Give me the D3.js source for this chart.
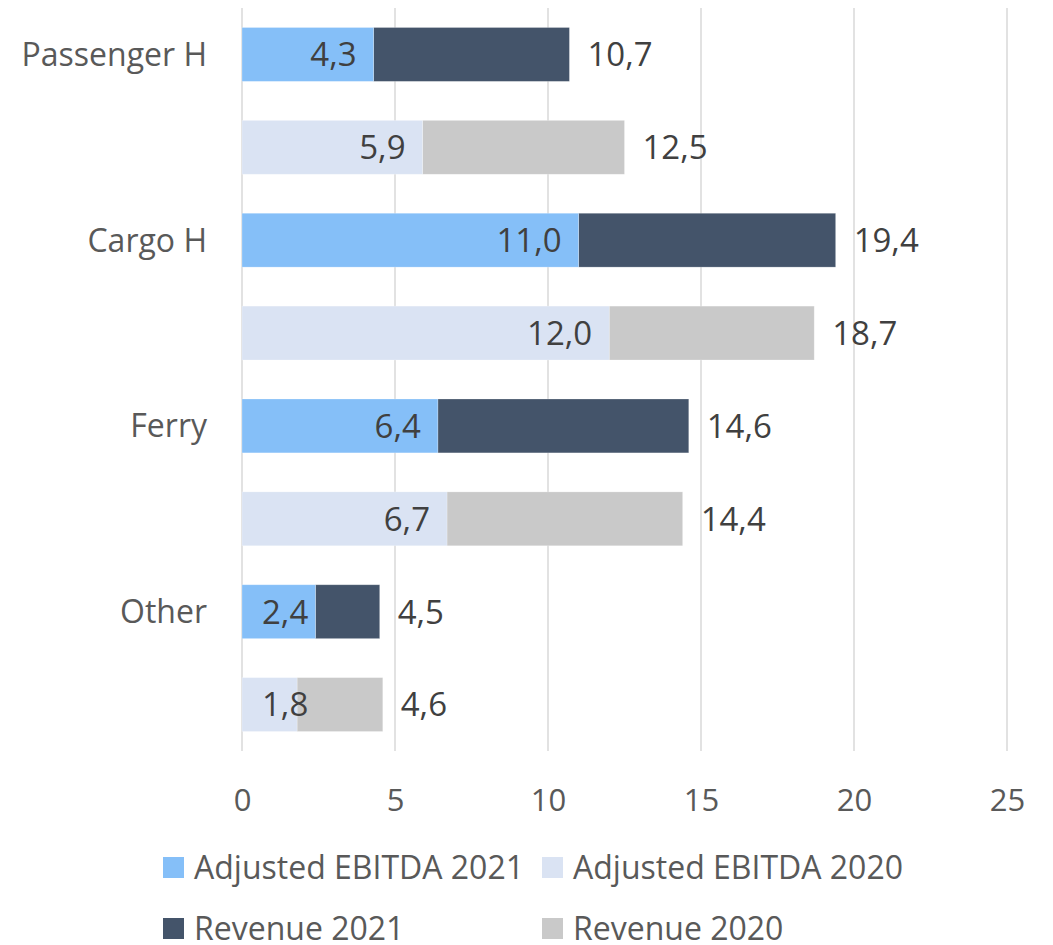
<!DOCTYPE html>
<html>
<head>
<meta charset="utf-8">
<script src="https://cdn.jsdelivr.net/npm/d3@7/dist/d3.min.js"></script>
<style>
  body { margin: 0; background: #fff; }
  text { font-family: "Open Sans", "Noto Sans", sans-serif; }
</style>
</head>
<body>
<div id="chart"></div>
<script>
var categories = ["Passenger H", "Cargo H", "Ferry", "Other"];
var ebitda2021 = [4.3, 11.0, 6.4, 2.4];
var revenue2021 = [10.7, 19.4, 14.6, 4.5];
var ebitda2020 = [5.9, 12.0, 6.7, 1.8];
var revenue2020 = [12.5, 18.7, 14.4, 4.6];
var xTicks = [0, 5, 10, 15, 20, 25];
var legendNames = ["Adjusted EBITDA 2021", "Adjusted EBITDA 2020", "Revenue 2021", "Revenue 2020"];

var colors = {
    e2021: "#85bff8",
    r2021: "#44546a",
    e2020: "#dae3f3",
    r2020: "#c9c9c9"
};

var width = 1053, height = 945;
var plot = { left: 242, right: 1007, top: 8, bottom: 751 };

// one row per bar, 2021 first then 2020
var rows = [];
for (var i = 0; i < categories.length; i++) {
    rows.push({ cat: categories[i], year: 2021, key: categories[i] + "|2021", e: ebitda2021[i], r: revenue2021[i], ce: colors.e2021, cr: colors.r2021 });
    rows.push({ cat: categories[i], year: 2020, key: categories[i] + "|2020", e: ebitda2020[i], r: revenue2020[i], ce: colors.e2020, cr: colors.r2020 });
}

var locale = d3.formatLocale({ decimal: ",", thousands: ".", grouping: [3], currency: ["", ""] });
var fmt = locale.format(".1f");

var svg = d3.select("#chart")
    .append("svg")
    .attr("width", width)
    .attr("height", height);

var xScale = d3.scaleLinear()
    .domain([0, 25])
    .range([plot.left, plot.right]);

var yScale = d3.scaleBand()
    .domain(rows.map(function(d) { return d.key; }))
    .range([plot.top, plot.bottom])
    .paddingInner(0.42)
    .paddingOuter(0.21);

// gridlines
svg.append("g")
    .selectAll("line")
    .data(xTicks)
    .enter()
    .append("line")
    .attr("x1", function(d) { return xScale(d); })
    .attr("x2", function(d) { return xScale(d); })
    .attr("y1", plot.top)
    .attr("y2", plot.bottom)
    .attr("stroke", "#d9d9d9")
    .attr("stroke-width", 1.5);

// x axis labels
var xAxis = d3.axisBottom(xScale).tickValues(xTicks).tickSize(0).tickPadding(0);
var gx = svg.append("g")
    .attr("transform", "translate(0," + 800 + ")")
    .call(xAxis);
gx.select(".domain").remove();
gx.selectAll("text")
    .attr("dy", "0.36em")
    .attr("y", 0)
    .attr("fill", "#595959")
    .style("font-size", "31px");

// revenue segments (stacked after EBITDA)
svg.append("g")
    .selectAll("rect")
    .data(rows)
    .enter()
    .append("rect")
    .attr("x", function(d) { return xScale(d.e); })
    .attr("width", function(d) { return xScale(d.r) - xScale(d.e); })
    .attr("y", function(d) { return yScale(d.key); })
    .attr("height", yScale.bandwidth())
    .attr("fill", function(d) { return d.cr; })
    .attr("stroke", "#fff")
    .attr("stroke-opacity", 0.3)
    .attr("stroke-width", 0.75);

// EBITDA segments
svg.append("g")
    .selectAll("rect")
    .data(rows)
    .enter()
    .append("rect")
    .attr("x", xScale(0))
    .attr("width", function(d) { return xScale(d.e) - xScale(0); })
    .attr("y", function(d) { return yScale(d.key); })
    .attr("height", yScale.bandwidth())
    .attr("fill", function(d) { return d.ce; })
    .attr("stroke", "#fff")
    .attr("stroke-opacity", 0.3)
    .attr("stroke-width", 0.75);

// EBITDA labels, inside end (pushed right when the bar is too short)
svg.append("g")
    .selectAll("text")
    .data(rows)
    .enter()
    .append("text")
    .attr("y", function(d) { return yScale(d.key) + yScale.bandwidth() / 2; })
    .attr("dy", "0.36em")
    .attr("fill", "#404040")
    .style("font-size", "33px")
    .text(function(d) { return fmt(d.e); })
    .attr("x", function(d) {
        var w = this.getComputedTextLength();
        return Math.max(xScale(d.e) - 17 - w, xScale(0) + 20);
    });

// revenue labels, outside end
svg.append("g")
    .selectAll("text")
    .data(rows)
    .enter()
    .append("text")
    .attr("x", function(d) { return xScale(d.r) + 18; })
    .attr("y", function(d) { return yScale(d.key) + yScale.bandwidth() / 2; })
    .attr("dy", "0.36em")
    .attr("fill", "#404040")
    .style("font-size", "33px")
    .text(function(d) { return fmt(d.r); });

// category labels next to the 2021 bar
svg.append("g")
    .selectAll("text")
    .data(categories)
    .enter()
    .append("text")
    .attr("x", 207)
    .attr("y", function(d) { return yScale(d + "|2021") + yScale.bandwidth() / 2; })
    .attr("dy", "0.36em")
    .attr("text-anchor", "end")
    .attr("fill", "#595959")
    .style("font-size", "32px")
    .text(function(d) { return d; });

// legend
var legendColors = [colors.e2021, colors.e2020, colors.r2021, colors.r2020];
var legendPos = [[163, 867], [542, 867], [163, 928], [542, 928]];
var legend = svg.append("g")
    .selectAll("g")
    .data(legendNames)
    .enter()
    .append("g")
    .attr("transform", function(d, i) { return "translate(" + legendPos[i][0] + "," + legendPos[i][1] + ")"; });
legend.append("rect")
    .attr("x", 0)
    .attr("y", -10)
    .attr("width", 21)
    .attr("height", 21)
    .attr("fill", function(d, i) { return legendColors[i]; });
legend.append("text")
    .attr("x", 31)
    .attr("y", 0)
    .attr("dy", "0.36em")
    .attr("fill", "#595959")
    .style("font-size", "32px")
    .text(function(d) { return d; });
</script>
</body>
</html>
